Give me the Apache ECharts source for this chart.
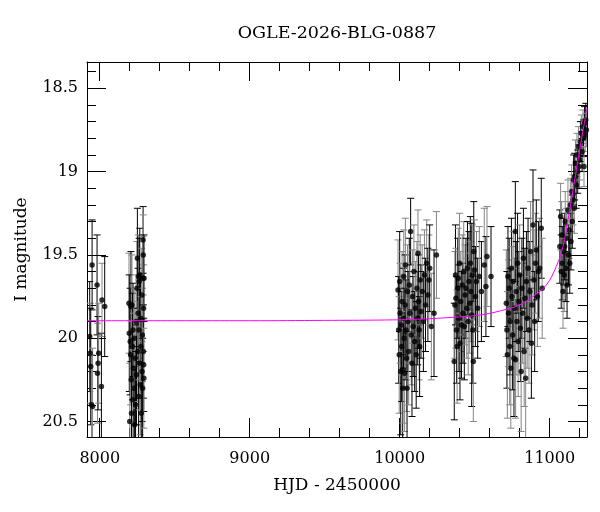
<!DOCTYPE html>
<html>
<head>
<meta charset="utf-8">
<script src="https://cdn.jsdelivr.net/npm/echarts@6/dist/echarts.min.js"></script>
<style>html,body{margin:0;padding:0;background:#fff}#c{width:600px;height:512px}</style>
</head>
<body>
<div id="c"></div>
<script>
// ---- data ----
const titleText = 'OGLE-2026-BLG-0887';
const xName = 'HJD - 2450000';
const yName = 'I magnitude';
const xMajorTicks = [8000, 9000, 10000, 11000];
const xMinorTicks = [8200, 8400, 8600, 8800, 9200, 9400, 9600, 9800, 10200, 10400, 10600, 10800, 11200];
const yMajorTicks = [18.5, 19, 19.5, 20, 20.5];
const yMinorTicks = [18.4, 18.6, 18.7, 18.8, 18.9, 19.1, 19.2, 19.3, 19.4, 19.6, 19.7, 19.8, 19.9, 20.1, 20.2, 20.3, 20.4];

const hjd = [
  7933, 7936, 7940, 7945, 7949, 7952, 7982, 7985, 7989, 7993, 8011, 8015, 8033,
  8195, 8197, 8200, 8203, 8206, 8208, 8210, 8212, 8215, 8218, 8220, 8222, 8225, 8228, 8230, 8233, 8236, 8239,
  8242, 8245, 8248, 8251, 8254, 8256, 8258, 8259, 8262, 8263, 8265, 8267, 8270, 8272, 8275, 8277, 8280, 8282,
  8284, 8286, 8288, 8289, 8290, 8291, 8292, 8293, 8294, 8295,
  9989, 9993, 9997, 10000, 10003, 10007, 10010, 10013, 10016, 10020, 10022, 10025, 10027, 10030, 10033, 10036,
  10038, 10042, 10046, 10049, 10052, 10056, 10060, 10064, 10068, 10073, 10077, 10082, 10086, 10090, 10095, 10100,
  10105, 10110, 10115, 10120, 10122, 10126, 10130, 10133, 10137, 10142, 10150, 10158, 10165, 10172, 10180, 10188,
  10195, 10200, 10211, 10229, 10245,
  10364, 10368, 10372, 10375, 10379, 10383, 10387, 10391, 10395, 10399, 10402, 10407, 10412, 10417, 10422, 10427,
  10431, 10436, 10442, 10447, 10452, 10457, 10462, 10467, 10471, 10475, 10480, 10484, 10488, 10491, 10494, 10498,
  10505, 10512, 10520, 10531, 10545, 10564, 10575, 10582, 10609,
  10711, 10715, 10718, 10722, 10726, 10730, 10733, 10737, 10741, 10745, 10749, 10753, 10757, 10762, 10766, 10771,
  10773, 10777, 10782, 10786, 10790, 10795, 10800, 10805, 10810, 10815, 10820, 10825, 10830, 10835, 10840, 10845,
  10850, 10856, 10862, 10868, 10873, 10878, 10883, 10889, 10895, 10900, 10905, 10911, 10918, 10925, 10933, 10944, 10950,
  11068, 11073, 11077, 11080, 11084, 11089, 11093, 11097, 11100, 11104, 11108, 11112, 11116, 11122, 11126, 11130,
  11134, 11138, 11142, 11147, 11151, 11156, 11160, 11164, 11167, 11172, 11177, 11182, 11187, 11192, 11196, 11200,
  11205, 11211, 11216, 11222, 11226, 11229, 11233, 11237, 11241, 11245
];
const mag = [
  19.99, 20.09, 20.17, 20.40, 19.56, 20.41, 19.68, 20.21, 20.15, 20.09, 20.29, 19.77, 19.81,
  19.79, 19.97, 20.50, 20.02, 20.10, 19.81, 20.25, 20.45, 19.80, 20.05, 20.37, 19.95, 20.18, 20.30, 20.00, 20.52, 20.12, 20.40,
  19.90, 20.22, 19.70, 19.52, 20.08, 19.85, 19.63, 20.35, 19.95, 19.66, 20.15, 19.62, 20.28, 19.88, 20.05, 20.45, 19.74, 20.20,
  19.98, 20.30, 19.64, 19.41, 19.50, 20.08, 19.82, 20.16, 20.24, 19.64,
  19.71, 19.95, 20.10, 19.66, 19.85, 20.20, 19.92, 20.05, 19.78, 20.30, 20.19, 19.88, 19.63, 20.00, 20.21, 19.80,
  19.56, 19.95, 20.12, 20.30, 19.72, 19.90, 20.08, 19.68, 19.85, 19.36, 19.98, 20.15, 19.75, 19.93, 19.60, 20.02,
  19.82, 20.10, 19.70, 19.88, 19.49, 19.78, 19.95, 20.05, 19.65, 19.84, 19.72, 19.90, 19.62, 19.80, 19.55, 19.74,
  19.65, 19.58, 19.93, 19.85, 19.50,
  20.14, 19.80, 19.62, 19.76, 19.95, 20.05, 19.70, 19.64, 19.88, 19.55, 20.03, 19.78, 19.92, 19.68, 19.85, 19.60,
  19.93, 19.74, 19.70, 19.82, 19.58, 19.90, 19.66, 19.79, 19.55, 19.72, 19.86, 19.62, 19.95, 20.14, 19.48, 19.59,
  19.75, 19.66, 19.82, 19.63, 19.72, 19.56, 19.69, 19.51, 19.63,
  19.79, 19.95, 20.10, 19.63, 19.85, 19.70, 20.05, 19.90, 20.18, 19.58, 19.75, 19.98, 19.66, 20.12, 19.82, 19.36,
  20.13, 19.72, 19.90, 19.55, 20.02, 19.78, 19.62, 19.94, 20.20, 19.70, 19.85, 19.52, 20.08, 19.76, 20.24, 19.66,
  19.88, 19.58, 19.95, 19.72, 19.48, 20.03, 19.80, 19.32, 19.65, 19.90, 19.55, 19.47, 19.75, 19.60, 19.58, 19.34, 19.70,
  19.45, 19.27, 19.60, 19.38, 19.55, 19.72, 19.48, 19.62, 19.45, 19.30, 19.58, 19.40, 19.68, 19.23, 19.50, 19.35,
  19.55, 19.20, 19.42, 19.12, 19.30, 19.17, 19.05, 19.22, 19.03, 18.95, 19.08, 18.90, 19.00, 18.85, 18.97, 18.93,
  18.82, 18.77, 18.88, 18.73, 18.80, 18.97, 18.71, 18.78, 18.69, 18.75
];
const magErr = [
  0.33, 0.30, 0.35, 0.30, 0.27, 0.35, 0.30, 0.30, 0.28, 0.30, 0.32, 0.22, 0.30,
  0.30, 0.35, 0.35, 0.32, 0.30, 0.33, 0.35, 0.35, 0.30, 0.32, 0.30, 0.28, 0.33, 0.30, 0.30, 0.35, 0.30, 0.32,
  0.28, 0.30, 0.28, 0.30, 0.30, 0.27, 0.25, 0.30, 0.30, 0.26, 0.28, 0.28, 0.30, 0.26, 0.30, 0.30, 0.28, 0.30,
  0.28, 0.30, 0.25, 0.20, 0.24, 0.28, 0.26, 0.28, 0.30, 0.26,
  0.30, 0.32, 0.35, 0.30, 0.30, 0.38, 0.30, 0.33, 0.30, 0.35, 0.32, 0.30, 0.28, 0.30, 0.35, 0.30,
  0.28, 0.30, 0.32, 0.33, 0.28, 0.30, 0.32, 0.28, 0.30, 0.20, 0.30, 0.32, 0.28, 0.30, 0.28, 0.30,
  0.28, 0.32, 0.28, 0.28, 0.26, 0.28, 0.30, 0.30, 0.27, 0.28, 0.28, 0.30, 0.27, 0.28, 0.26, 0.28,
  0.27, 0.26, 0.32, 0.38, 0.26,
  0.35, 0.32, 0.30, 0.30, 0.32, 0.34, 0.30, 0.30, 0.32, 0.30, 0.34, 0.30, 0.32, 0.30, 0.30, 0.30,
  0.32, 0.30, 0.30, 0.30, 0.28, 0.32, 0.30, 0.30, 0.28, 0.30, 0.55, 0.30, 0.32, 0.36, 0.30, 0.30,
  0.30, 0.30, 0.30, 0.30, 0.30, 0.34, 0.30, 0.30, 0.30,
  0.32, 0.35, 0.38, 0.30, 0.32, 0.30, 0.35, 0.32, 0.36, 0.30, 0.30, 0.33, 0.30, 0.35, 0.30, 0.30,
  0.35, 0.30, 0.32, 0.30, 0.33, 0.30, 0.30, 0.32, 0.36, 0.30, 0.30, 0.30, 0.33, 0.30, 0.36, 0.30,
  0.30, 0.30, 0.32, 0.30, 0.30, 0.33, 0.30, 0.33, 0.30, 0.30, 0.30, 0.30, 0.30, 0.30, 0.30, 0.30, 0.30,
  0.22, 0.20, 0.22, 0.20, 0.22, 0.22, 0.20, 0.22, 0.20, 0.18, 0.20, 0.18, 0.20, 0.18, 0.18, 0.17,
  0.18, 0.16, 0.17, 0.16, 0.16, 0.15, 0.15, 0.15, 0.14, 0.14, 0.14, 0.13, 0.13, 0.12, 0.13, 0.12,
  0.12, 0.11, 0.12, 0.10, 0.11, 0.12, 0.10, 0.10, 0.10, 0.10
];
// model curve, points
const modelHjd = [7915, 8500, 9000, 9500, 9867, 10089, 10311, 10533, 10711, 10800, 10889, 10978, 11044, 11089, 11122, 11156, 11200, 11249];
const modelMag = [19.895, 19.895, 19.895, 19.893, 19.891, 19.887, 19.877, 19.861, 19.827, 19.80, 19.75, 19.68, 19.57, 19.45, 19.29, 19.11, 18.87, 18.62];

const xMin = 7915, xMax = 11249, yMin = 18.342, yMax = 20.593;

// ---- chart ----
const FONT = 'DejaVu Serif';
const points = hjd.map((t, i) => [t, mag[i], magErr[i]]);
const model = modelHjd.map((t, i) => [t, modelMag[i]]);

function xAx(pos, ticks, len, labels, line) {
  return {
    type: 'value', position: pos, min: xMin, max: xMax,
    axisLine: {show: line, lineStyle: {color: '#000', width: 1}},
    axisTick: {show: true, inside: true, length: len, customValues: ticks, lineStyle: {color: '#000', width: 1}},
    axisLabel: labels ? {show: true, customValues: ticks, margin: 14, color: '#000', fontFamily: FONT, fontSize: 16,
      formatter: v => String(v)} : {show: false},
    splitLine: {show: false}
  };
}
function yAx(pos, ticks, len, labels, line) {
  return {
    type: 'value', position: pos, min: yMin, max: yMax, inverse: true,
    axisLine: {show: line, lineStyle: {color: '#000', width: 1}},
    axisTick: {show: true, inside: true, length: len, customValues: ticks, lineStyle: {color: '#000', width: 1}},
    axisLabel: labels ? {show: true, customValues: ticks, margin: 9, color: '#000', fontFamily: FONT, fontSize: 16,
      formatter: v => String(v)} : {show: false},
    splitLine: {show: false}
  };
}

const xAxes = [
  xAx('bottom', xMajorTicks, 19, true, true),
  xAx('bottom', xMinorTicks, 9, false, false),
  xAx('top', xMajorTicks, 19, false, true),
  xAx('top', xMinorTicks, 9, false, false)
];
Object.assign(xAxes[0], {name: xName, nameLocation: 'middle', nameGap: 40,
  nameTextStyle: {color: '#000', fontFamily: FONT, fontSize: 17}});
const yAxes = [
  yAx('left', yMajorTicks, 19, true, true),
  yAx('left', yMinorTicks, 9, false, false),
  yAx('right', yMajorTicks, 19, false, true),
  yAx('right', yMinorTicks, 9, false, false)
];
Object.assign(yAxes[0], {name: yName, nameLocation: 'middle', nameGap: 57,
  nameTextStyle: {color: '#000', fontFamily: FONT, fontSize: 17}});

const chart = echarts.init(document.getElementById('c'), null, {renderer: 'canvas'});
chart.setOption({
  backgroundColor: '#fff',
  animation: false,
  graphic: [{
    type: 'text', x: 337, y: 33,
    style: {text: titleText, fill: '#000', font: '17.5px "DejaVu Serif"', textAlign: 'center', textVerticalAlign: 'middle'}
  }],
  grid: {left: 87, right: 13, top: 62, bottom: 75, containLabel: false},
  xAxis: xAxes,
  yAxis: yAxes,
  series: [
    {
      type: 'custom', clip: true, xAxisIndex: 0, yAxisIndex: 0, z: 2,
      data: points,
      renderItem: function (params, api) {
        const x = api.value(0), y = api.value(1), e = api.value(2);
        const top = api.coord([x, y - e]);
        const bot = api.coord([x, y + e]);
        const cs = params.coordSys;
        const color = params.dataIndex % 2 ? '#858585' : '#000';
        const w = 3.5;
        const y0 = Math.max(top[1], cs.y), y1 = Math.min(bot[1], cs.y + cs.height);
        const style = {stroke: color, lineWidth: 1};
        const ch = [{type: 'line', shape: {x1: top[0], y1: y0, x2: top[0], y2: y1}, style: style}];
        if (top[1] >= cs.y) ch.push({type: 'line', shape: {x1: top[0] - w, y1: top[1], x2: top[0] + w, y2: top[1]}, style: style});
        if (bot[1] <= cs.y + cs.height) ch.push({type: 'line', shape: {x1: bot[0] - w, y1: bot[1], x2: bot[0] + w, y2: bot[1]}, style: style});
        return {type: 'group', children: ch};
      }
    },
    {
      type: 'scatter', xAxisIndex: 0, yAxisIndex: 0, z: 3, clip: true,
      data: points.map(p => [p[0], p[1]]),
      symbol: 'circle', symbolSize: 5.5,
      itemStyle: {color: '#000'}
    },
    {
      type: 'line', xAxisIndex: 0, yAxisIndex: 0, z: 4,
      data: model, smooth: 0.4, showSymbol: false, symbol: 'none',
      lineStyle: {color: '#ff00ff', width: 1}
    }
  ]
});
</script>
</body>
</html>
